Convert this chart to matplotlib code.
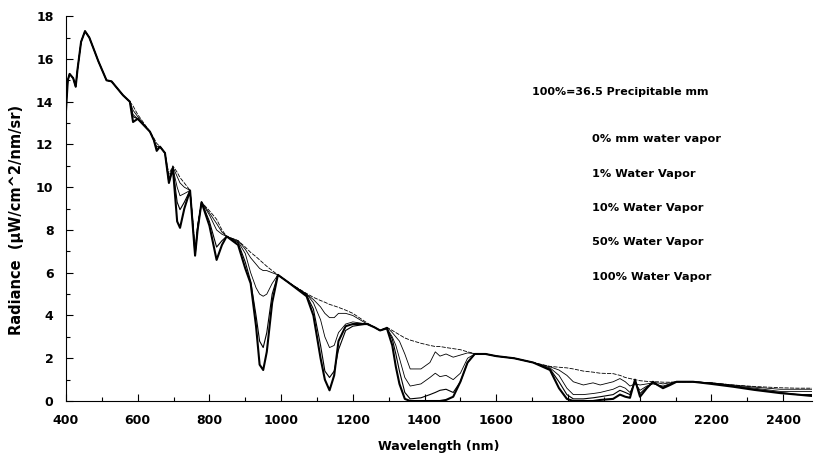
import matplotlib.pyplot as plt
from matplotlib.ticker import MultipleLocator

plt.rcParams['font.family'] = ['DejaVu Sans']

# wavelength grid (nm)
wl = [400, 405, 410, 420, 427, 432, 442, 453, 465, 481, 490, 513, 527, 559, 578,
      587, 600, 634, 645, 653, 662, 676, 687, 698, 710,
      718, 730, 746, 753, 760, 767, 778, 800, 820, 835,
      848, 880, 900, 915, 930, 940, 950, 960, 975, 991,
      1020, 1071, 1090, 1110, 1122, 1135, 1148, 1160, 1180, 1200,
      1240, 1260, 1276, 1295, 1310, 1320, 1330, 1345, 1360, 1390,
      1415, 1430, 1443, 1460, 1480, 1500, 1520, 1540, 1570, 1600,
      1650, 1703, 1750, 1775, 1797, 1815, 1843, 1870, 1890, 1926,
      1945, 1960, 1973, 1987, 2001, 2020, 2037, 2050, 2065, 2085,
      2103, 2149, 2200, 2260, 2320, 2392, 2440, 2484]

# radiance (uW/cm^2/nm/sr)
vap0 = [13.8, 15.0, 15.3, 15.1, 14.7, 15.5, 16.8, 17.3, 17.0, 16.3, 15.9, 15.0, 14.95, 14.3, 14.0,
        13.8, 13.4, 12.6, 12.3, 12.05, 11.9, 11.6, 10.6, 11.0, 10.7,
        10.45, 10.2, 9.85, 8.6, 7.0, 8.2, 9.3, 8.9, 8.5, 8.0,
        7.7, 7.5, 7.2, 6.95, 6.75, 6.6, 6.45, 6.3, 6.1, 5.9,
        5.55, 5.03, 4.85, 4.7, 4.62, 4.52, 4.45, 4.38, 4.25, 4.1,
        3.65, 3.45, 3.3, 3.45, 3.3, 3.2, 3.1, 2.95, 2.85, 2.7,
        2.6, 2.55, 2.55, 2.5, 2.45, 2.4, 2.3, 2.22, 2.2, 2.1,
        2.0, 1.8, 1.62, 1.58, 1.55, 1.5, 1.4, 1.35, 1.3, 1.28,
        1.2, 1.1, 1.05, 1.0, 0.95, 0.92, 0.9, 0.9, 0.88, 0.88,
        0.9, 0.9, 0.85, 0.75, 0.68, 0.62, 0.6, 0.6]
vap1 = [13.8, 15.0, 15.3, 15.1, 14.7, 15.5, 16.8, 17.3, 17.0, 16.3, 15.9, 15.0, 14.95, 14.3, 14.0,
        13.6, 13.3, 12.6, 12.2, 11.9, 11.9, 11.6, 10.4, 10.95, 10.5,
        10.2, 10.0, 9.85, 8.5, 6.9, 8.2, 9.3, 8.8, 8.3, 7.9,
        7.7, 7.5, 7.1, 6.7, 6.4, 6.2, 6.1, 6.1, 6.0, 5.9,
        5.55, 5.0, 4.75, 4.4, 4.1, 3.9, 3.9, 4.1, 4.1, 4.0,
        3.6, 3.45, 3.3, 3.45, 3.2, 3.0, 2.8, 2.2, 1.5, 1.5,
        1.8, 2.3, 2.1, 2.2, 2.05, 2.15, 2.25, 2.22, 2.2, 2.1,
        2.0, 1.8, 1.6, 1.45, 1.2, 0.9, 0.75, 0.85, 0.75, 0.9,
        1.05, 0.9, 0.7, 0.8, 0.75, 0.8, 0.85, 0.85, 0.8, 0.85,
        0.9, 0.9, 0.85, 0.75, 0.65, 0.55, 0.55, 0.55]
vap10 = [13.8, 15.0, 15.3, 15.1, 14.7, 15.5, 16.8, 17.3, 17.0, 16.3, 15.9, 15.0, 14.95, 14.3, 14.0,
         13.4, 13.2, 12.6, 12.2, 11.8, 11.9, 11.6, 10.3, 10.9, 10.0,
         9.6, 9.7, 9.85, 8.4, 6.8, 8.1, 9.3, 8.7, 8.0, 7.8,
         7.7, 7.45, 6.9, 6.0, 5.3, 5.0, 4.9, 5.0, 5.5, 5.9,
         5.55, 5.0, 4.6, 3.8, 3.0, 2.5, 2.6, 3.2, 3.6, 3.7,
         3.6, 3.45, 3.3, 3.4, 3.0, 2.6, 2.0, 1.1, 0.7, 0.8,
         1.1, 1.3, 1.14, 1.2, 1.0, 1.3, 2.0, 2.2, 2.2, 2.1,
         2.0, 1.8, 1.55, 1.2, 0.6, 0.3, 0.3, 0.35, 0.4, 0.55,
         0.7, 0.6, 0.4, 0.85, 0.5, 0.7, 0.8, 0.75, 0.7, 0.8,
         0.9, 0.9, 0.85, 0.72, 0.6, 0.45, 0.45, 0.45]
vap50 = [13.8, 15.0, 15.3, 15.1, 14.7, 15.5, 16.8, 17.3, 17.0, 16.3, 15.9, 15.0, 14.95, 14.3, 14.0,
         13.3, 13.2, 12.6, 12.2, 11.75, 11.9, 11.6, 10.2, 10.9, 9.3,
         8.95, 9.3, 9.85, 8.4, 6.8, 8.0, 9.3, 8.4, 7.2, 7.5,
         7.7, 7.4, 6.5, 5.6, 4.0, 2.8, 2.5, 3.2, 5.0, 5.9,
         5.55, 4.95, 4.3, 2.6, 1.4, 1.1, 1.4, 2.4, 3.3, 3.5,
         3.6, 3.45, 3.3, 3.4, 2.9, 2.2, 1.4, 0.4, 0.1, 0.15,
         0.3, 0.4, 0.5, 0.55, 0.4, 0.9, 1.8, 2.2, 2.2, 2.1,
         2.0, 1.8, 1.5, 0.9, 0.3, 0.1, 0.1, 0.15, 0.2, 0.3,
         0.5, 0.4, 0.3, 0.9, 0.35, 0.65, 0.85, 0.75, 0.65, 0.8,
         0.9, 0.9, 0.82, 0.7, 0.55, 0.4, 0.3, 0.3]
vap100 = [13.6, 15.0, 15.3, 15.1, 14.7, 15.5, 16.8, 17.3, 17.0, 16.3, 15.9, 15.0, 14.95, 14.3, 14.0,
          13.05, 13.2, 12.6, 12.2, 11.7, 11.9, 11.6, 10.2, 10.9, 8.4,
          8.1, 9.0, 9.85, 8.3, 6.8, 8.0, 9.3, 8.2, 6.6, 7.3,
          7.7, 7.3, 6.2, 5.5, 3.5, 1.7, 1.45, 2.3, 4.6, 5.9,
          5.55, 4.9, 4.0, 2.0, 1.0, 0.5, 1.2, 2.8, 3.5, 3.6,
          3.6, 3.45, 3.3, 3.4, 2.6, 1.6, 0.8, 0.1, 0.0, 0.0,
          0.0, 0.0, 0.0, 0.05, 0.2, 0.9, 1.8, 2.2, 2.2, 2.1,
          2.0, 1.8, 1.45, 0.6, 0.1, 0.0, 0.0, 0.0, 0.05, 0.1,
          0.3, 0.2, 0.15, 1.0, 0.2, 0.6, 0.9, 0.75, 0.6, 0.75,
          0.9, 0.9, 0.8, 0.67, 0.52, 0.37, 0.3, 0.23]

labels = ['0% mm water vapor', '1% Water Vapor', '10% Water Vapor',
          '50% Water Vapor', '100% Water Vapor']

fig = plt.figure(figsize=(8.15, 4.62), dpi=100)
ax = fig.add_axes([0.081, 0.132, 0.915, 0.833])

ax.plot(wl, vap0, color='black', lw=0.6, dashes=(5, 1.5))
ax.plot(wl, vap1, color='black', lw=0.6)
ax.plot(wl, vap10, color='black', lw=0.6)
ax.plot(wl, vap50, color='black', lw=0.8)
ax.plot(wl, vap100, color='black', lw=1.5)

ax.set_xlim(400, 2480)
ax.set_ylim(0, 18)
ax.xaxis.set_major_locator(MultipleLocator(200))
ax.xaxis.set_minor_locator(MultipleLocator(100))
ax.yaxis.set_major_locator(MultipleLocator(2))
ax.yaxis.set_minor_locator(MultipleLocator(1))
ax.tick_params(which='both', direction='in', width=0.8, labelsize=9, pad=9)
ax.tick_params(which='major', length=5)
ax.tick_params(which='minor', length=3)
for lab in ax.get_xticklabels() + ax.get_yticklabels():
    lab.set_fontweight('bold')

for s in ['top', 'right']:
    ax.spines[s].set_visible(False)
ax.spines['left'].set_linewidth(0.8)
ax.spines['bottom'].set_linewidth(0.8)

ax.set_xlabel('Wavelength (nm)', fontsize=9, fontweight='bold', labelpad=10)
ax.set_ylabel('Radiance  (\u00b5W/cm^2/nm/sr)', fontsize=10.5, fontweight='bold')
ax.yaxis.set_label_coords(-0.056, 0.47)

# legend text (no line samples in the original)
fig.text(532 / 815, 1 - 92 / 462, '100%=36.5 Precipitable mm', fontsize=8,
         fontweight='bold', va='center')
ypos = [139, 174, 208, 242, 277]
for lab, yp in zip(labels, ypos):
    fig.text(592 / 815, 1 - yp / 462, lab, fontsize=8.2, fontweight='bold', va='center')

fig.savefig('out.png', dpi=100)
